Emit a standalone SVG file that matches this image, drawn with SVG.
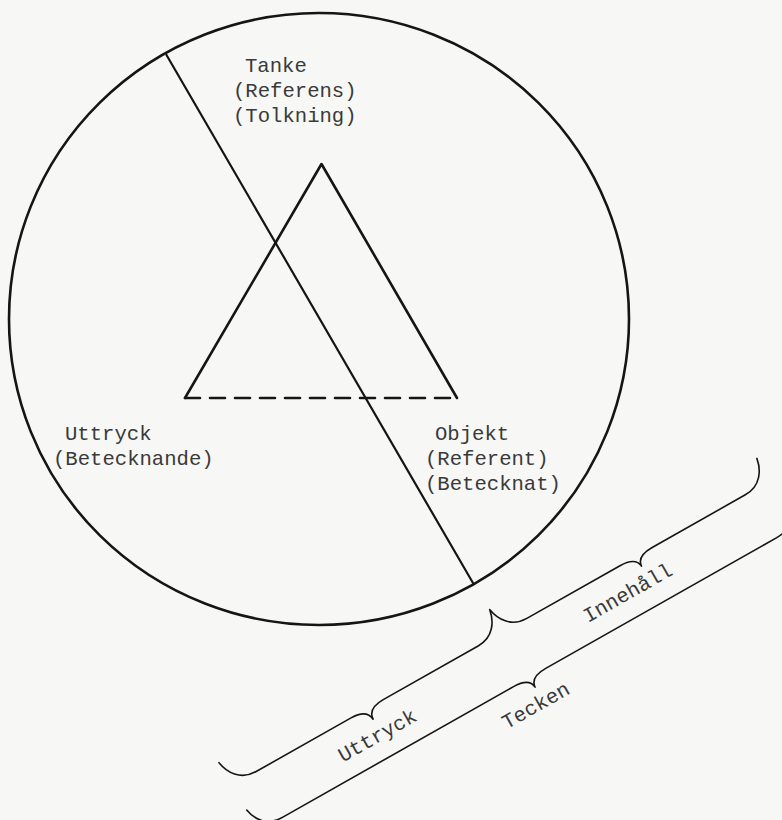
<svg xmlns="http://www.w3.org/2000/svg" width="782" height="820" viewBox="0 0 782 820">
  <style>
    .ln { fill: none; stroke: #151515; stroke-linecap: round; stroke-linejoin: round; }
    .txt { font-family: "Liberation Mono", "DejaVu Sans Mono", monospace; font-size: 20.6px; fill: #3a3a3a; }
  </style>
  <rect x="0" y="0" width="782" height="820" fill="#f7f7f5"/>

  <g id="circle">
    <ellipse class="ln" cx="319" cy="319" rx="310" ry="306" stroke-width="2.6"/>
  </g>

  <g id="triangle">
    <path class="ln" d="M185 398 L321.5 164 L457 398" stroke-width="2.6"/>
    <line class="ln" x1="185" y1="398" x2="457" y2="398" stroke-width="2.6" stroke-dasharray="15 10" stroke-linecap="butt"/>
  </g>

  <g id="connectors">
    <line class="ln" x1="166.5" y1="55" x2="473" y2="583" stroke-width="2.2"/>
  </g>

  <g id="node-tanke">
    <text class="txt" x="245" y="72">Tanke</text>
    <text class="txt" x="233" y="97">(Referens)</text>
    <text class="txt" x="233" y="122">(Tolkning)</text>
  </g>

  <g id="node-uttryck">
    <text class="txt" x="65" y="440">Uttryck</text>
    <text class="txt" x="53" y="465">(Betecknande)</text>
  </g>

  <g id="node-objekt">
    <text class="txt" x="435" y="440">Objekt</text>
    <text class="txt" x="425" y="465">(Referent)</text>
    <text class="txt" x="425" y="490">(Betecknat)</text>
  </g>

  <g id="brace-upper" transform="translate(219 762.7) rotate(-29.5)">
    <path class="ln" stroke-width="1.6" d="M0 0 C2 12 10 26 28 26 L137 26 C149 26 155 30 155.5 38 C156 30 162 26 174 26 L283 26 C301 26 309 12 311 0 C313 12 321 26 339 26 L446 26 C458 26 464 30 464.5 37 C465 30 471 26 483 26 L590 26 C608 26 616 12 618 0"/>
    <text class="txt" x="108" y="61">Uttryck</text>
    <text class="txt" x="390" y="60">Innehåll</text>
  </g>

  <g id="brace-lower" transform="translate(246.7 810) rotate(-29.5)">
    <path class="ln" stroke-width="1.6" d="M0 0 C2 12 10 24 28 24 L293 24 C305 24 311 28 311.5 35 C312 28 318 24 330 24 L595 24 C613 24 621 12 623 0"/>
    <text class="txt" x="266" y="58">Tecken</text>
  </g>
</svg>
